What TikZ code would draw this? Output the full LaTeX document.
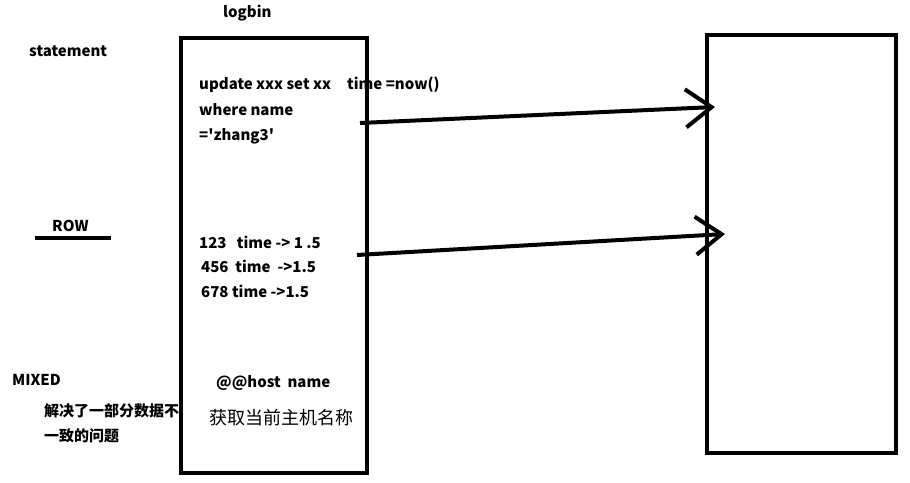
\documentclass[tikz,border=0pt]{standalone}
\usepackage{fontspec}
\setmainfont{Noto Sans CJK SC}
\usetikzlibrary{arrows.meta}
\begin{document}
\begin{tikzpicture}[x=1pt,y=-1pt,
  lbl/.style={anchor=base west,inner sep=0pt,font=\fontsize{15}{18}\selectfont\bfseries},
  cjkb/.style={anchor=base west,inner sep=0pt,font=\fontsize{15}{18}\selectfont\bfseries},
  cjkr/.style={anchor=base west,inner sep=0pt,font=\fontsize{18}{22}\selectfont},
  boxframe/.style={draw=black,line width=4pt,rectangle,inner sep=0pt},
  arr/.style={line width=4pt,-{Straight Barb[length=26pt,width=38pt,line width=4pt]}}]
\useasboundingbox (0,0) rectangle (910,482);
% left-side labels
\node[lbl] (stmt) at (29,56) {statement};
\node[lbl] (logbin) at (223,17) {logbin};
\node[lbl] (row) at (52,231) {ROW};
\coordinate (rowl) at (35,238);
\coordinate (rowr) at (111,238);
\draw[line width=4pt] (rowl) -- (rowr);
\node[lbl] (mixed) at (12,385) {MIXED};
\node[cjkb] (jj1) at (44,416) {解决了一部分数据不};
\node[cjkb] (jj2) at (44,441) {一致的问题};
% box contents
\node[lbl] (upd) at (199,89) {update xxx set xx};
\node[lbl] (tnow) at (347,89) {time =now()};
\node[lbl] (where) at (199,115) {where name};
\node[lbl] (zhang) at (199,140) {=\textquotesingle zhang3\textquotesingle};
\node[lbl] (r1) at (199,248) {123\ \ \ time -> 1 .5};
\node[lbl] (r2) at (201,272) {456\ \ time\ \ ->1.5};
\node[lbl] (r3) at (201,297) {678\ time ->1.5};
\node[lbl] (host) at (216,387) {@@host\ \ name};
\node[cjkr] (hostcn) at (209,424) {获取当前主机名称};
% boxes
\node[boxframe,minimum width=186pt,minimum height=435pt] (lb) at (274,255.5) {};
\node[boxframe,minimum width=189pt,minimum height=418pt] (rb) at (801.5,244) {};
% arrows
\coordinate (a1s) at (360,123);
\coordinate (a1e) at (715,107);
\coordinate (a2s) at (357,255);
\coordinate (a2e) at (725,234);
\draw[arr] (a1s) -- (a1e);
\draw[arr] (a2s) -- (a2e);
\end{tikzpicture}
\end{document}
